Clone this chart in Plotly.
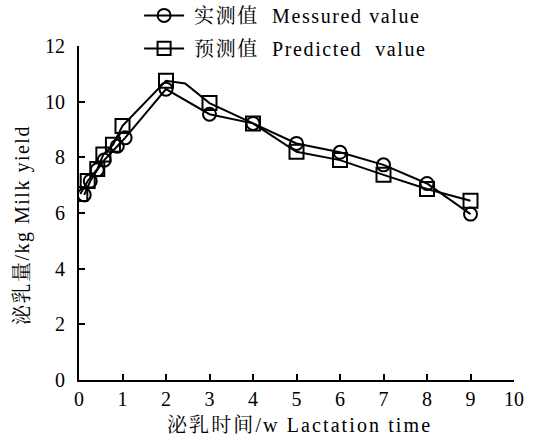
import plotly.graph_objects as go

# Measured values (circles)
measured_x = [0.12, 0.26, 0.42, 0.58, 0.88, 1.06, 2, 3, 4, 5, 6, 7, 8, 9]
measured_y = [6.65, 7.15, 7.55, 7.9, 8.4, 8.7, 10.45, 9.55, 9.22, 8.5, 8.18, 7.73, 7.06, 5.96]

# Predicted values (squares); the 2.44 point is a curve vertex without marker
predicted_x = [0.03, 0.2, 0.42, 0.56, 0.78, 1.0, 2, 2.44, 3, 4, 5, 6, 7, 8, 9]
predicted_y = [6.68, 7.15, 7.58, 8.1, 8.45, 9.13, 10.75, 10.65, 9.95, 9.22, 8.2, 7.9, 7.37, 6.86, 6.44]
predicted_has_marker = [1, 1, 1, 1, 1, 1, 1, 0, 1, 1, 1, 1, 1, 1, 1]

x_ticks = list(range(0, 11))
y_ticks = [0, 2, 4, 6, 8, 10, 12]

x_title = "泌乳时间/w Lactation time"
y_title = "泌乳量/kg Milk yield"
name_measured = "实测值  Messured value"
name_predicted = "预测值  Predicted  value"

FONT = "Liberation Serif, Noto Serif CJK SC, Noto Sans CJK SC, serif"


def spaced(text, px):
    return f'<span style="letter-spacing:{px}px">{text}</span>'


fig = go.Figure()
fig.add_trace(go.Scatter(
    x=measured_x, y=measured_y, mode="lines+markers",
    name=" " + spaced(name_measured, 1.6), legendgroup="a",
    line=dict(color="black", width=2),
    marker=dict(symbol="circle", size=13, color="rgba(0,0,0,0)", opacity=1,
                line=dict(width=2, color="black")),
))
fig.add_trace(go.Scatter(
    x=predicted_x, y=predicted_y, mode="lines+markers",
    name=" " + spaced(name_predicted, 1.6), legendgroup="b",
    line=dict(color="black", width=2),
    marker=dict(symbol="square", size=[14 if m else 0 for m in predicted_has_marker],
                color="rgba(0,0,0,0)", opacity=1,
                line=dict(width=2, color="black")),
))

fig.update_layout(
    width=535, height=441,
    margin=dict(l=79, r=21, t=46, b=61, autoexpand=False),
    plot_bgcolor="white", paper_bgcolor="white",
    font=dict(family=FONT, size=20, color="black"),
    showlegend=True,
    legend=dict(xref="container", yref="paper", x=0.26, y=1.15,
                xanchor="left", yanchor="top", traceorder="grouped",
                bgcolor="rgba(0,0,0,0)", itemwidth=40,
                font=dict(family=FONT, size=20), tracegroupgap=4),
    annotations=[
        dict(text=spaced(y_title, 1.5), xref="paper", yref="paper",
             x=-0.131, y=0.464, xanchor="center", yanchor="middle",
             textangle=-90, showarrow=False, font=dict(size=20)),
        dict(text=spaced(x_title, 2.1), xref="paper", yref="paper",
             x=0.506, y=-0.135, xanchor="center", yanchor="middle",
             showarrow=False, font=dict(size=20)),
    ],
)
fig.update_xaxes(
    range=[0, 10], tickvals=x_ticks, ticktext=[str(v) for v in x_ticks],
    showline=True, linecolor="black", linewidth=2, showgrid=False, zeroline=False,
    ticks="inside", ticklen=6, tickwidth=2, tickcolor="black", automargin=False,
    ticklabelstandoff=0,
)
fig.update_yaxes(
    range=[0, 12], tickvals=y_ticks, ticktext=[str(v) for v in y_ticks],
    showline=True, linecolor="black", linewidth=2, showgrid=False, zeroline=False,
    ticks="inside", ticklen=6, tickwidth=2, tickcolor="black", automargin=False,
    ticklabelstandoff=8,
)

fig.write_html("out.html", config={"displayModeBar": False},
               post_script="document.body.style.margin='0';")
